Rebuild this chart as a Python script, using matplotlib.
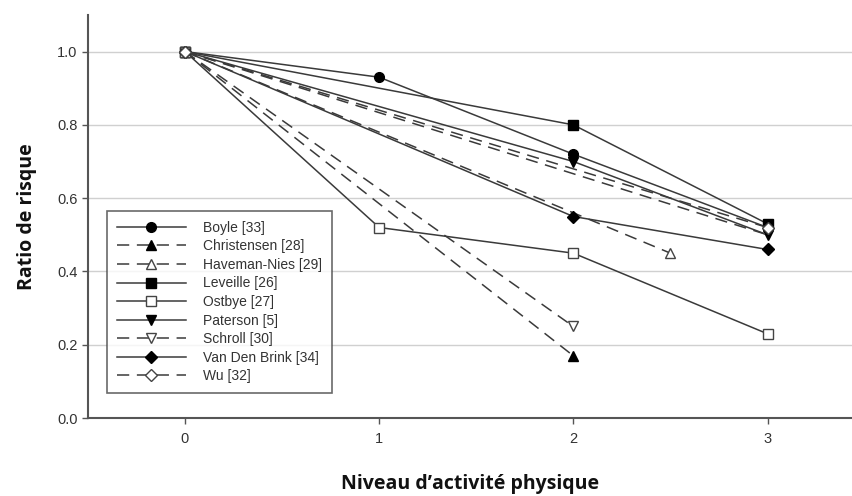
import matplotlib.pyplot as plt

# activity level vs risk ratio, one list per study
boyle_x = [0, 1, 2, 3]
boyle_y = [1.0, 0.93, 0.72, 0.52]
christensen_x = [0, 2]
christensen_y = [1.0, 0.17]
haveman_x = [0, 2.5]
haveman_y = [1.0, 0.45]
leveille_x = [0, 2, 3]
leveille_y = [1.0, 0.80, 0.53]
ostbye_x = [0, 1, 2, 3]
ostbye_y = [1.0, 0.52, 0.45, 0.23]
paterson_x = [0, 2, 3]
paterson_y = [1.0, 0.70, 0.50]
schroll_x = [0, 2]
schroll_y = [1.0, 0.25]
vdb_x = [0, 2, 3]
vdb_y = [1.0, 0.55, 0.46]
wu_x = [0, 3]
wu_y = [1.0, 0.52]
wu2_y = [1.0, 0.50]

x_ticks = [0, 1, 2, 3]
y_ticks = [0.0, 0.2, 0.4, 0.6, 0.8, 1.0]

plt.rcParams['font.family'] = ['Liberation Sans', 'DejaVu Sans']

fig = plt.figure(figsize=(8.53, 4.96), dpi=100)
ax = fig.add_axes([0.103, 0.157, 0.897, 0.813])

lc = '#3a3a3a'
dash = (0, (8, 5))
ms = 7

ax.plot(boyle_x, boyle_y, color=lc, lw=1.1, marker='o', mfc='black', mec='black', ms=ms, label='Boyle [33]')
ax.plot(christensen_x, christensen_y, color=lc, lw=1.1, ls=dash, marker='^', mfc='black', mec='black', ms=ms, label='Christensen [28]')
ax.plot(haveman_x, haveman_y, color=lc, lw=1.1, ls=dash, marker='^', mfc='white', mec='#444444', ms=ms, label='Haveman-Nies [29]')
ax.plot(leveille_x, leveille_y, color=lc, lw=1.1, marker='s', mfc='black', mec='black', ms=ms, label='Leveille [26]')
ax.plot(ostbye_x, ostbye_y, color=lc, lw=1.1, marker='s', mfc='white', mec='#444444', ms=ms, label='Ostbye [27]')
ax.plot(paterson_x, paterson_y, color=lc, lw=1.1, marker='v', mfc='black', mec='black', ms=ms, label='Paterson [5]')
ax.plot(schroll_x, schroll_y, color=lc, lw=1.1, ls=dash, marker='v', mfc='white', mec='#444444', ms=ms, label='Schroll [30]')
ax.plot(vdb_x, vdb_y, color=lc, lw=1.1, marker='D', mfc='black', mec='black', ms=ms - 0.5, label='Van Den Brink [34]')
ax.plot(wu_x, wu2_y, color=lc, lw=1.1, ls=dash)
ax.plot(wu_x, wu_y, color=lc, lw=1.1, ls=dash, marker='D', mfc='white', mec='#444444', ms=ms - 0.5, label='Wu [32]')

ax.set_xlim(-0.5, 3.44)
ax.set_ylim(0, 1.1)
ax.set_xticks(x_ticks)
ax.set_yticks(y_ticks)
ax.set_xticklabels([str(v) for v in x_ticks])
ax.set_yticklabels(['%.1f' % v for v in y_ticks])
ax.yaxis.grid(True, color='#d0d0d0', lw=1)
ax.set_axisbelow(True)

for s in ['top', 'right']:
    ax.spines[s].set_visible(False)
for s in ['left', 'bottom']:
    ax.spines[s].set_color('#555555')
    ax.spines[s].set_linewidth(1.5)
ax.tick_params(axis='both', colors='#555555', labelcolor='#333333', labelsize=10.5, length=4, width=1)
ax.tick_params(axis='x', pad=6)

ax.set_xlabel("Niveau d\u2019activité physique", fontsize=14, fontweight='bold',
              family=['Open Sans', 'DejaVu Sans'], labelpad=20, color='#111111')
ax.set_ylabel("Ratio de risque", fontsize=14, fontweight='bold',
              family=['Open Sans', 'DejaVu Sans'], labelpad=14, color='#111111')

leg = ax.legend(loc='lower left', bbox_to_anchor=(0.016, 0.045), fontsize=10, handlelength=5,
                handletextpad=1.2, labelspacing=0.33, borderpad=0.7, frameon=True, fancybox=False)
leg.get_frame().set_edgecolor('#444444')
leg.get_frame().set_linewidth(1.2)
for t in leg.get_texts():
    t.set_color('#333333')

plt.savefig('out.png', dpi=100)
